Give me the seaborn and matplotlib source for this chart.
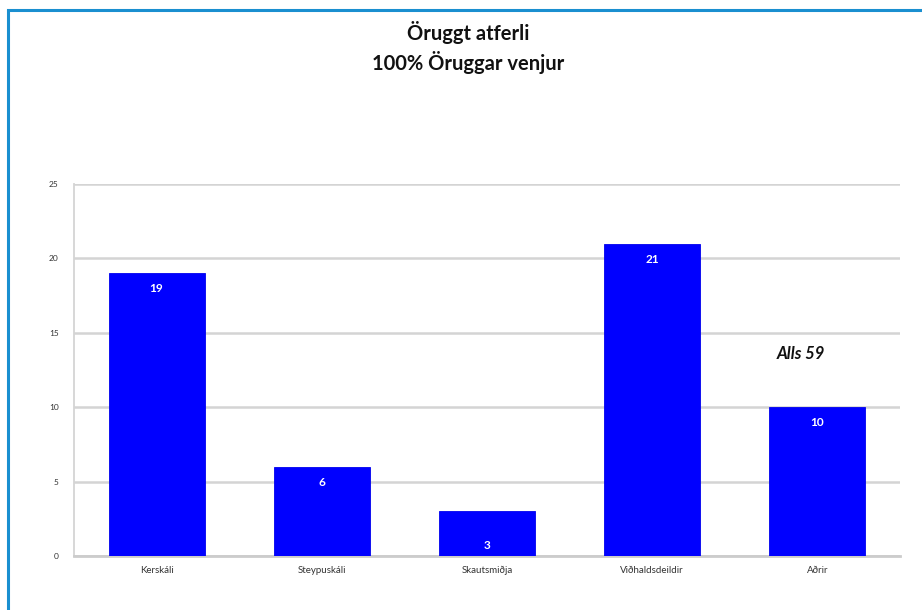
import matplotlib
matplotlib.use("Agg")
import matplotlib.pyplot as plt
import seaborn as sns
import pandas as pd
from matplotlib.patches import Rectangle

categories = ["Kerskáli", "Steypuskáli", "Skautsmiðja", "Viðhaldsdeildir", "Aðrir"]
values = [19, 6, 3, 21, 10]
yticks = [0, 5, 10, 15, 20, 25]
title_lines = ["Öruggt atferli", "100% Öruggar venjur"]
note_text = "Alls 59"

df = pd.DataFrame({"cat": categories, "val": values})

sns.set_theme(style="white")
plt.rcParams["font.family"] = ["Lato", "DejaVu Sans"]

W, H = 922, 610
fig = plt.figure(figsize=(W / 100, H / 100), dpi=100)
fig.patch.set_facecolor("white")

# outer blue frame (extends past right/bottom edges)
fig.patches.append(Rectangle((8 / W, 1 - 610 / H - 0.05), 1.0, (610 - 10) / H + 0.05,
                             transform=fig.transFigure, fill=False,
                             edgecolor="#1a8fd0", linewidth=2.2, zorder=0))

left, right, bottom, top = 74, 900, 556, 184
ax = fig.add_axes([left / W, 1 - bottom / H, (right - left) / W, (bottom - top) / H])

sns.barplot(data=df, x="cat", y="val", color="#0000ff", saturation=1,
            width=0.58, ax=ax, zorder=3)
for p in ax.patches:
    p.set_edgecolor("#0000ee")
    p.set_linewidth(0.6)

ax.set_ylim(0, 25)
ax.set_xlim(-0.5, len(categories) - 0.5)
ax.set_yticks(yticks)
ax.set_yticklabels([str(t) for t in yticks], fontsize=6, color="#333333")
ax.tick_params(axis="y", length=0, pad=11)
ax.tick_params(axis="x", length=0, pad=7, labelsize=7, labelcolor="#333333")
ax.set_xlabel("")
ax.set_ylabel("")
ax.grid(axis="y", color="#d4d4d4", linewidth=1.8, zorder=0)
ax.set_axisbelow(True)
for s in ["top", "right"]:
    ax.spines[s].set_visible(False)
ax.spines["left"].set_color("#d4d4d4")
ax.spines["left"].set_linewidth(1.3)
ax.spines["bottom"].set_color("#cccccc")
ax.spines["bottom"].set_linewidth(2)

for i, v in enumerate(values):
    ly = v - 1.05 if v >= 4 else 0.7
    ax.text(i, ly, str(v), ha="center", va="center", color="white",
            fontsize=8.5, fontweight="bold", zorder=5)

ax.text(3.9, 13.6, note_text, ha="center", va="center", fontsize=12,
        fontweight="bold", fontstyle="italic", color="#111111")

fig.text(468 / W, 1 - 33 / H, title_lines[0], ha="center", va="center",
         fontsize=14.5, fontweight="bold", color="#111111")
fig.text(468 / W, 1 - 62 / H, title_lines[1], ha="center", va="center",
         fontsize=14.5, fontweight="bold", color="#111111")

fig.savefig("out.png", dpi=100)
